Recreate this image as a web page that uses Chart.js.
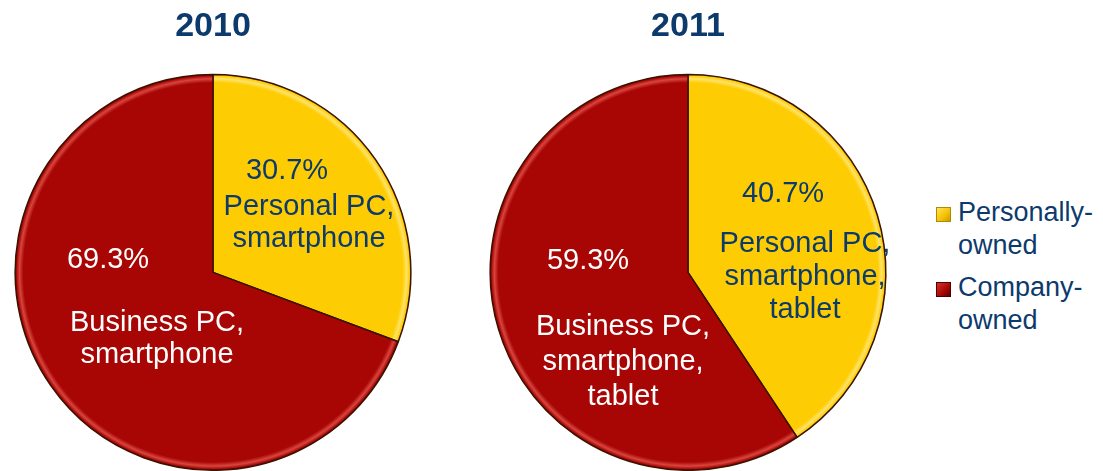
<!DOCTYPE html>
<html>
<head>
<meta charset="utf-8">
<script src="https://cdn.jsdelivr.net/npm/chart.js@4.4.1/dist/chart.umd.min.js"></script>
<style>
  body { margin: 0; background: #fff; width: 1103px; height: 471px; overflow: hidden; position: relative; font-family: "Liberation Sans", Arial, sans-serif; }
  canvas { position: absolute; top: 0; }
  #legend { position: absolute; left: 936px; top: 196px; color: #0d3a6c; font-size: 27px; line-height: 33px; }
  .item { position: relative; padding-left: 22px; margin-bottom: 9px; }
  .box { position: absolute; left: 0; top: 11px; width: 13px; height: 13px; border: 1px solid; }
</style>
</head>
<body>
<canvas id="pie2010" width="426" height="471" style="left:0px"></canvas>
<canvas id="pie2011" width="426" height="471" style="left:475px"></canvas>
<div id="legend"></div>
<script>
// data
var years = ['2010', '2011'];
var categories = ['Personally-owned', 'Company-owned'];
var legendLines = [['Personally-', 'owned'], ['Company-', 'owned']];
var personalShare = [30.7, 40.7];
var companyShare = [69.3, 59.3];
var personalDesc = [['Personal PC,', 'smartphone'], ['Personal PC,', 'smartphone,', 'tablet']];
var companyDesc = [['Business PC,', 'smartphone'], ['Business PC,', 'smartphone,', 'tablet']];

var navy = '#0d3a6c';
var font = '"Liberation Sans", Arial, sans-serif';
// [fill, edge shadow, highlight] per slice
var sliceColors = [['#fecc02', '#a88400', '#ffe36a'], ['#a80604', '#4a0000', '#d8453f']];

// where the slice texts sit, offsets from the pie centre
// pct = [dx, dy] of percentage baseline, desc = [dx, firstBaselineDy, lineGap]
var labelPlace = [
  [ { pct: [74, -93], desc: [96, -57, 32] }, { pct: [-105, -4], desc: [-56, 59, 32] } ],
  [ { pct: [95, -70], desc: [117, -20, 33] }, { pct: [-100, -3], desc: [-65, 63, 35] } ]
];

function sliceFill(ctx) {
  var set = sliceColors[ctx.dataIndex % 2];
  var area = ctx.chart.chartArea;
  if (!area) return set[0];
  var cx = (area.left + area.right) / 2, cy = (area.top + area.bottom) / 2;
  var r = Math.min(area.right - area.left, area.bottom - area.top) / 2;
  var g = ctx.chart.ctx.createRadialGradient(cx, cy, 0, cx, cy, r);
  g.addColorStop(0, set[0]);
  g.addColorStop(0.955, set[0]);
  g.addColorStop(0.975, set[2]);
  g.addColorStop(0.99, set[0]);
  g.addColorStop(1, set[1]);
  return g;
}

var sliceText = {
  id: 'sliceText',
  afterDatasetsDraw: function(chart, args, opts) {
    var c = chart.ctx;
    var meta = chart.getDatasetMeta(0);
    var ds = chart.data.datasets[0];
    c.save();
    c.font = '29px ' + font;
    c.textAlign = 'center';
    c.textBaseline = 'alphabetic';
    meta.data.forEach(function(arc, i) {
      var p = opts.place[i];
      c.fillStyle = opts.colors[i];
      c.fillText(ds.data[i].toFixed(1) + '%', arc.x + p.pct[0], arc.y + p.pct[1]);
      opts.desc[i].forEach(function(line, k) {
        c.fillText(line, arc.x + p.desc[0], arc.y + p.desc[1] + k * p.desc[2]);
      });
    });
    c.restore();
  }
};

function makePie(id, n) {
  new Chart(document.getElementById(id), {
    type: 'pie',
    data: {
      labels: categories,
      datasets: [{
        data: [personalShare[n], companyShare[n]],
        backgroundColor: sliceFill,
        borderColor: '#3a1200',
        borderWidth: 1.5
      }]
    },
    options: {
      responsive: false,
      devicePixelRatio: 1,
      animation: false,
      layout: { padding: 0 },
      plugins: {
        legend: { display: false },
        tooltip: { enabled: false },
        title: {
          display: true,
          text: years[n],
          color: navy,
          font: { family: font, size: 34, weight: 'bold' },
          padding: { top: 6, bottom: 27 }
        },
        sliceText: {
          place: labelPlace[n],
          desc: [personalDesc[n], companyDesc[n]],
          colors: [navy, '#ffffff']
        }
      }
    },
    plugins: [sliceText]
  });
}

makePie('pie2010', 0);
makePie('pie2011', 1);

// legend
var legend = document.getElementById('legend');
var boxStyles = [
  'background: linear-gradient(135deg, #ffe45a, #f5c000 60%, #c99a00); border-color: #b08a00;',
  'background: linear-gradient(135deg, #d8302a, #a80604 60%, #5a0000); border-color: #4a0000;'
];
categories.forEach(function(cat, i) {
  var item = document.createElement('div');
  item.className = 'item';
  item.title = cat;
  item.innerHTML = '<span class="box" style="' + boxStyles[i] + '"></span>' + legendLines[i].join('<br>');
  legend.appendChild(item);
});
</script>
</body>
</html>
